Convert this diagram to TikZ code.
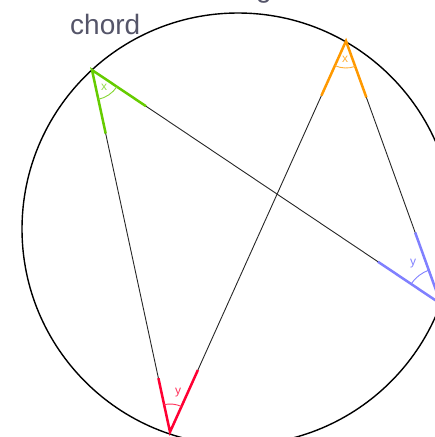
\documentclass[tikz,border=0pt]{standalone}
\usepackage{fontspec}
\setmainfont{Liberation Sans}
\usetikzlibrary{calc,angles}
\definecolor{cgreen}{RGB}{102,204,0}
\definecolor{corange}{RGB}{255,153,0}
\definecolor{cblue}{RGB}{128,128,255}
\definecolor{cred}{RGB}{255,0,51}
\definecolor{ctext}{RGB}{85,85,105}
\tikzset{
  circ/.style={line width=1.4pt,black},
  chordline/.style={line width=0.9pt,black!85},
  seg/.style={line width=2.5pt,line cap=butt},
  arcmark/.style={line width=0.9pt},
  lbl/.style={font=\fontsize{12}{12}\selectfont,inner sep=0pt},
  big/.style={font=\fontsize{28}{28}\selectfont,text=ctext,inner sep=0pt,anchor=base west}
}
\begin{document}
\begin{tikzpicture}[x=1pt,y=-1pt]
\useasboundingbox (0,0) rectangle (435,437);
\coordinate (C) at (238,229);
\draw[circ] (C) circle[radius=216pt];
\coordinate (G) at (92,70);
\coordinate (O) at (346,41);
\coordinate (B) at (441,304);
\coordinate (R) at (170,432);
\draw[chordline] (G) -- (R);
\draw[chordline] (G) -- (B);
\draw[chordline] (O) -- (R);
\draw[chordline] (O) -- (B);
% green
\draw[seg,cgreen] ($(G)!65pt!(R)$) -- (G) -- ($(G)!65pt!(B)$);
\pic[draw=cgreen!80,arcmark,angle radius=30pt] {angle=R--G--B};
\node[lbl,text=cgreen!70] (lx1) at (104,87) {x};
% orange
\draw[seg,corange] ($(O)!60pt!(R)$) -- (O) -- ($(O)!60pt!(B)$);
\pic[draw=corange!80,arcmark,angle radius=27pt] {angle=R--O--B};
\node[lbl,text=corange!80] (lx2) at (345,59) {x};
% blue
\draw[seg,cblue] ($(B)!76pt!(G)$) -- (B) -- ($(B)!76pt!(O)$);
\pic[draw=cblue,arcmark,angle radius=36pt] {angle=O--B--G};
\node[lbl,text=cblue] (ly1) at (413,264) {y};
% red
\draw[seg,cred] ($(R)!55pt!(G)$) -- (R) -- ($(R)!68pt!(O)$);
\pic[draw=cred!80,arcmark,angle radius=28pt] {angle=O--R--G};
\node[lbl,text=cred!80] (ly2) at (178,393) {y};
% texts
\node[big] (chord) at (70,34) {chord};
\node[big] (gtext) at (256,-3) {g};
\end{tikzpicture}
\end{document}
